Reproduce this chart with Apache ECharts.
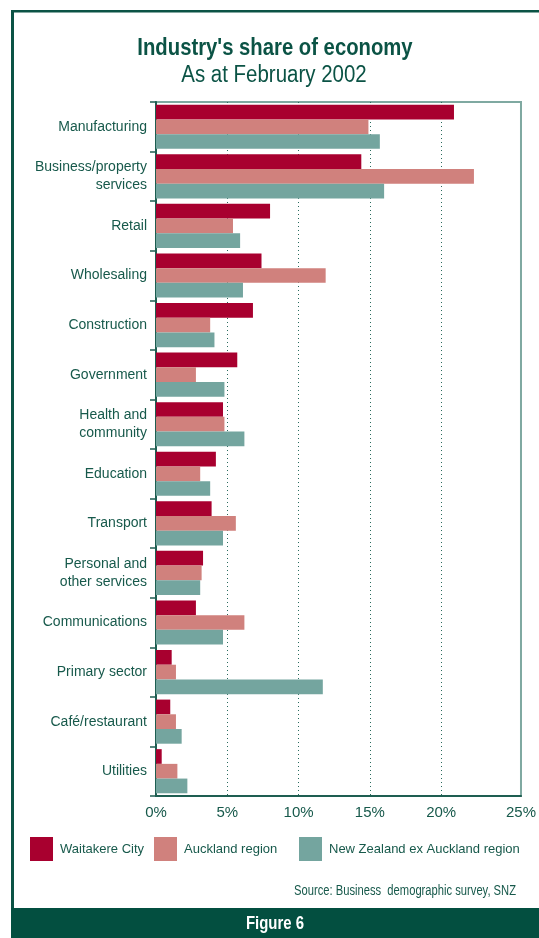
<!DOCTYPE html>
<html>
<head>
<meta charset="utf-8">
<script src="https://cdn.jsdelivr.net/npm/echarts@6/dist/echarts.min.js"></script>
<style>
  html, body { margin: 0; padding: 0; background: #ffffff; }
  #chart { width: 539px; height: 938px; }
</style>
</head>
<body>
<div id="chart"></div>
<script>
// Industry share of economy, February 2002 (percent of total)
const categories = [
  'Manufacturing',
  'Business/property\nservices',
  'Retail',
  'Wholesaling',
  'Construction',
  'Government',
  'Health and\ncommunity',
  'Education',
  'Transport',
  'Personal and\nother services',
  'Communications',
  'Primary sector',
  'Café/restaurant',
  'Utilities'
];
const waitakere = [20.9, 14.4, 8.0, 7.4, 6.8, 5.7, 4.7, 4.2, 3.9, 3.3, 2.8, 1.1, 1.0, 0.4];
const auckland  = [14.9, 22.3, 5.4, 11.9, 3.8, 2.8, 4.8, 3.1, 5.6, 3.2, 6.2, 1.4, 1.4, 1.5];
const nzExAuck  = [15.7, 16.0, 5.9, 6.1, 4.1, 4.8, 6.2, 3.8, 4.7, 3.1, 4.7, 11.7, 1.8, 2.2];
const seriesNames = ['Waitakere City', 'Auckland region', 'New Zealand ex Auckland region'];
const tickValues = [0, 5, 10, 15, 20];
const labelValues = [0, 5, 10, 15, 20, 25.6];

const FONT = "'Liberation Sans', Arial, Helvetica, sans-serif";
const GREEN = '#0B5345';
const TEXT = '#17594B';
const COLORS = ['#A8002F', '#D0817D', '#74A59F'];

const chart = echarts.init(document.getElementById('chart'), null, { renderer: 'canvas' });

function legendAt(name, left) {
  return {
    data: [name],
    left: left,
    top: 837,
    padding: 0,
    orient: 'horizontal',
    itemWidth: 23,
    itemHeight: 24,
    icon: 'rect',
    selectedMode: false,
    textStyle: { fontFamily: FONT, fontSize: 13, color: TEXT, padding: [0, 0, 0, 2] }
  };
}

// condensed-looking text: scaled horizontally around its anchor
function narrowText(text, x, y, font, fill, align, scale) {
  return {
    type: 'text', x: x, y: y, scaleX: scale, silent: true,
    style: { text: text, font: font, fill: fill, textAlign: align, textVerticalAlign: 'middle' }
  };
}

chart.setOption({
  animation: false,
  backgroundColor: '#ffffff',
  legend: [
    legendAt(seriesNames[0], 30),
    legendAt(seriesNames[1], 154),
    legendAt(seriesNames[2], 299)
  ],
  grid: {
    left: 156, top: 102, width: 366, height: 694,
    show: true, borderColor: '#7FA9A1', borderWidth: 2, backgroundColor: 'transparent'
  },
  xAxis: {
    type: 'value',
    min: 0,
    max: 25.6,
    axisLine: { show: true, lineStyle: { color: '#1E5E51', width: 2 } },
    axisTick: { show: false, customValues: tickValues },
    splitLine: { show: true, lineStyle: { color: '#2A6B5E', width: 1, type: [1, 3] } },
    axisLabel: {
      customValues: labelValues,
      margin: 9,
      fontFamily: FONT, fontSize: 15, color: TEXT,
      formatter: v => (v > 25 ? '25' : String(v)) + '%'
    }
  },
  yAxis: {
    type: 'category',
    inverse: true,
    data: categories,
    axisLine: { show: true, lineStyle: { color: '#1E5E51', width: 2 } },
    axisTick: { show: true, length: 6, lineStyle: { color: '#1E5E51', width: 1.5 } },
    axisLabel: {
      margin: 9, fontFamily: FONT, fontSize: 14, color: TEXT, lineHeight: 18, align: 'right'
    }
  },
  series: [waitakere, auckland, nzExAuck].map((vals, i) => ({
    name: seriesNames[i],
    type: 'bar',
    data: vals,
    barGap: '0%',
    barCategoryGap: '11%',
    itemStyle: { color: COLORS[i] },
    z: 3
  })),
  graphic: [
    // outer frame: left and top rules
    { type: 'rect', shape: { x: 11, y: 10, width: 3, height: 928 }, style: { fill: GREEN }, silent: true },
    { type: 'rect', shape: { x: 11, y: 10, width: 528, height: 2.5 }, style: { fill: GREEN }, silent: true },
    // titles
    narrowText("Industry's share of economy", 275, 48, 'bold 24px ' + FONT, GREEN, 'center', 0.845),
    narrowText('As at February 2002', 274, 76, '23px ' + FONT, GREEN, 'center', 0.89),
    // source note
    narrowText('Source: Business  demographic survey, SNZ', 516, 891, '14px ' + FONT, TEXT, 'right', 0.8),
    // footer band
    { type: 'rect', shape: { x: 11, y: 908, width: 528, height: 30 }, style: { fill: '#034F40' }, silent: true },
    narrowText('Figure 6', 275, 924, 'bold 18px ' + FONT, '#ffffff', 'center', 0.83)
  ]
});
</script>
</body>
</html>
